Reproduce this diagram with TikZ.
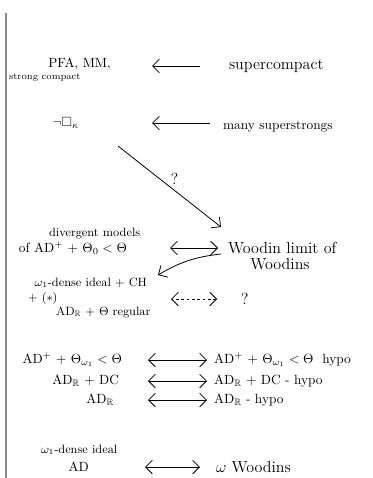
\documentclass[tikz,border=0pt]{standalone}
\usepackage{amsmath,amssymb}
\usetikzlibrary{arrows.meta}

\begin{document}
\begin{tikzpicture}[x=0.75pt, y=-0.75pt, >={Straight Barb[length=1.8mm]}, line width=0.6pt,
  izq/.style={anchor=east, inner sep=0.5pt},
  der/.style={anchor=west, inner sep=0.5pt},
  cen/.style={inner sep=0.5pt}]
  \useasboundingbox (0,0) rectangle (373,478);
  \clip (0,0) rectangle (373,478);
  % borde del papel
  \draw[black!45, line width=2pt] (6,13) -- (6,478);
  % supercompacto
  \node[izq] (pfa) at (112,64) {PFA, MM,};
  \node[der, font=\scriptsize] (stc) at (8,78) {strong compact};
  \node[der, font=\large] (sc) at (228,66) {supercompact};
  \draw[->, shorten <=21pt, shorten >=30pt] (sc.west) -- (sc.west -| pfa.east);
  % superfuertes
  \node[izq] (nsq) at (80,123) {$\neg\square_\kappa$};
  \node[der] (ms) at (222,127) {many superstrongs};
  \draw[->, shorten <=9pt, shorten >=54pt] (nsq.east -| ms.west) -- (nsq.east);
  % diagonal con ?
  \coordinate (d0) at (118,146);
  \coordinate (d1) at (221,227);
  \draw[->] (d0) -- node[pos=0.55, above=1pt, font=\large] (dq) {?} (d1);
  % modelos divergentes
  \node[der, font=\small] (dv) at (48,234) {divergent models};
  \node[izq] (ad0) at (128,248) {of AD$^+$ + $\Theta_0<\Theta$};
  \node[der, font=\large] (wl) at (227,248) {Woodin limit of};
  \node[cen, font=\large] (wd) at (280,264) {Woodins};
  \draw[<->, shorten <=31.5pt, shorten >=6.75pt] (ad0.east) -- (ad0.east -| wl.west);
  % flecha curva
  \coordinate (c0) at (221,254);
  \coordinate (c1) at (158,275);
  \draw[->] (c0) to[bend right=12] (c1);
  % ideal denso
  \node[izq, font=\small] (id) at (148,283) {$\omega_1$-dense ideal + CH};
  \node[der, font=\small] (ast) at (27,298) {+ ($*$)};
  \node[der, font=\small] (adr) at (55,312) {AD$_{\mathbb R}$ + $\Theta$ regular};
  \node[der, font=\large] (qm) at (240,299) {?};
  \draw[<->, dash pattern=on 2pt off 2pt, shorten <=17.25pt, shorten >=17.25pt] (qm.west) -- (qm.west -| id.east);
  % hipotesis
  \foreach \i/\y/\xl/\l/\r in {1/360/123/{AD$^+$ + $\Theta_{\omega_1}<\Theta$}/{AD$^+$ + $\Theta_{\omega_1}<\Theta$\ \ hypo},
      2/381/120/{AD$_{\mathbb R}$ + DC}/{AD$_{\mathbb R}$ + DC - hypo},
      3/400/115/{AD$_{\mathbb R}$}/{AD$_{\mathbb R}$ - hypo}}{
    \node[izq] (l\i) at (\xl,\y) {\l};
    \node[der] (r\i) at (213,\y) {\r};
    \draw[<->, shorten <=(148-\xl)*0.75pt, shorten >=4.5pt] (l\i.east) -- (r\i.west);
  }
  % omega Woodins
  \node[der, font=\small] (bid) at (40,450) {$\omega_1$-dense ideal};
  \node[izq] (bad) at (90,467) {AD};
  \node[der, font=\large] (bw) at (215,467) {$\omega$ Woodins};
  \draw[<->, shorten <=11.25pt, shorten >=41.25pt] (bw.west) -- (bw.west -| bad.east);
\end{tikzpicture}
\end{document}
